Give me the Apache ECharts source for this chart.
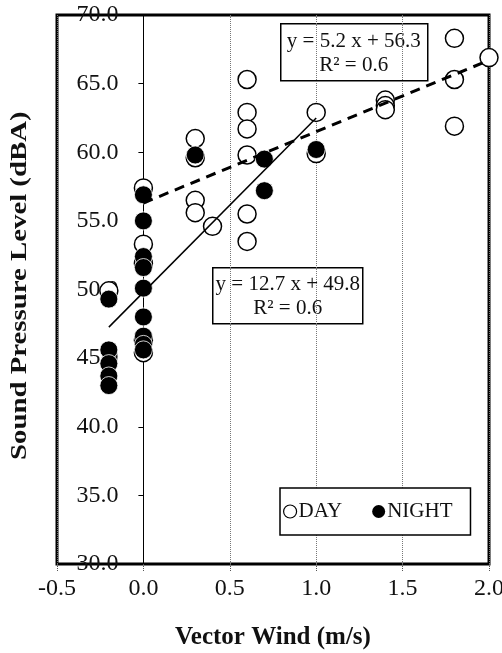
<!DOCTYPE html>
<html>
<head>
<meta charset="utf-8">
<script src="https://cdn.jsdelivr.net/npm/echarts@6/dist/echarts.min.js"></script>
<style>
html,body{margin:0;padding:0;background:#fff;}
#chart{width:502px;height:653px;}
</style>
</head>
<body>
<div id="chart"></div>
<script>
// ---- data ----
var dayX   = [-0.2, 0, 0, 0, 0, 0, 0.3, 0.3, 0.3, 0.3, 0.4, 0.6, 0.6, 0.6, 0.6, 0.6, 0.6, 1.0, 1.0, 1.4, 1.4, 1.4, 1.8, 1.8, 1.8, 2.0];
var dayY   = [49.9, 57.4, 53.3, 51.9, 46.3, 45.4, 61.0, 59.6, 56.5, 55.6, 54.6, 65.3, 62.9, 61.7, 59.8, 55.5, 53.5, 62.9, 59.9, 63.8, 63.4, 63.1, 68.3, 65.3, 61.9, 66.9];
var nightX = [-0.2, -0.2, -0.2, -0.2, -0.2, 0, 0, 0, 0, 0, 0, 0, 0, 0, 0.3, 0.7, 0.7, 1.0];
var nightY = [49.3, 45.6, 44.6, 43.7, 43.0, 56.9, 55.0, 52.4, 51.6, 50.1, 48.0, 46.6, 46.0, 45.6, 59.8, 59.5, 57.2, 60.2];
var dayFit   = {slope: 5.2,  intercept: 56.3, from: 0,    to: 2.0, r2: 0.6};
var nightFit = {slope: 12.7, intercept: 49.8, from: -0.2, to: 1.0, r2: 0.6};
var xTicks = {min: -0.5, max: 2.0, interval: 0.5};
var yTicks = {min: 30, max: 70, interval: 5};
var seriesNames = ['DAY', 'NIGHT'];
var xTitle = 'Vector Wind (m/s)';
var yTitle = 'Sound Pressure Level (dBA)';

function pairs(xs, ys){ return xs.map(function(x,i){ return [x, ys[i]]; }); }
function fitLine(f){ return [[f.from, f.slope*f.from + f.intercept],[f.to, f.slope*f.to + f.intercept]]; }
function eqText(f){ return 'y = ' + f.slope.toFixed(1) + ' x + ' + f.intercept.toFixed(1); }

var FONT = 'Liberation Serif';
var GRID = {left: 57, right: 13, top: 15, bottom: 89};
var gridW = 502 - GRID.left - GRID.right;
// shift the y axis so it sits on x = 0 (Excel-style crossing)
var yAxisOffset = -gridW * (0 - xTicks.min) / (xTicks.max - xTicks.min);

var chart = echarts.init(document.getElementById('chart'), null, {renderer:'canvas'});

chart.setOption({
  backgroundColor: '#fff',
  animation: false,
  grid: {left: GRID.left, right: GRID.right, top: GRID.top, bottom: GRID.bottom, containLabel: false, outerBoundsMode: 'none',
         show: true, borderColor: '#000', borderWidth: 3, backgroundColor: 'transparent'},
  xAxis: {
    type: 'value', min: xTicks.min, max: xTicks.max, interval: xTicks.interval,
    axisLine: {onZero: false, lineStyle: {color: '#000', width: 1}},
    axisTick: {show: true, length: 8, lineStyle: {color: '#555', type: 'dotted'}},
    axisLabel: {margin: 13, color: '#111', fontFamily: FONT, fontSize: 24, formatter: function(v){ return v.toFixed(1); }},
    splitLine: {show: true, lineStyle: {color: '#777', type: 'dotted', width: 1}},
    name: xTitle, nameLocation: 'middle', nameGap: 61,
    nameTextStyle: {fontFamily: FONT, fontWeight: 'bold', fontSize: 25, color: '#111'}
  },
  yAxis: {
    type: 'value', min: yTicks.min, max: yTicks.max, interval: yTicks.interval,
    offset: yAxisOffset,
    axisLine: {onZero: false, lineStyle: {color: '#000', width: 1}},
    axisTick: {show: true, length: 5, lineStyle: {color: '#000'}},
    axisLabel: {margin: 25, color: '#111', fontFamily: FONT, fontSize: 24, formatter: function(v){ return v.toFixed(1); }},
    splitLine: {show: false}
  },
  legend: {
    data: [{name: seriesNames[0], icon: 'circle', itemStyle: {color: '#fff', borderColor: '#000', borderWidth: 1.2, opacity: 1}},
           {name: seriesNames[1], icon: 'circle', itemStyle: {color: '#000', borderWidth: 0, opacity: 1}}],
    left: 280, top: 488, orient: 'horizontal',
    padding: [13, 18, 13, 3], itemGap: 30, itemWidth: 13, itemHeight: 13,
    borderColor: '#000', borderWidth: 1.5, backgroundColor: '#fff',
    textStyle: {fontFamily: FONT, fontSize: 21, color: '#111', padding: [0,0,0,-3]}
  },
  graphic: [
    {type: 'text', x: 8, y: 460, rotation: Math.PI/2, scaleX: 1.2, z: 100,
     style: {text: yTitle, font: 'bold 24px "Liberation Serif"', fill: '#111', textAlign: 'left', textVerticalAlign: 'top'}},
    {type: 'group', left: 280, top: 23, z: 100, children: [
      {type: 'rect', shape: {x: 0, y: 0, width: 147, height: 57}, style: {fill: '#fff', stroke: '#000', lineWidth: 1.5}},
      {type: 'text', x: 73, y: 18, style: {text: eqText(dayFit), font: '21px "Liberation Serif"', fill: '#111', textAlign: 'center', textVerticalAlign: 'middle'}},
      {type: 'text', x: 73, y: 42, style: {text: 'R² = ' + dayFit.r2.toFixed(1), font: '21px "Liberation Serif"', fill: '#111', textAlign: 'center', textVerticalAlign: 'middle'}}
    ]},
    {type: 'group', left: 212, top: 267, z: 100, children: [
      {type: 'rect', shape: {x: 0, y: 0, width: 150, height: 56}, style: {fill: '#fff', stroke: '#000', lineWidth: 1.5}},
      {type: 'text', x: 75, y: 17, style: {text: eqText(nightFit), font: '21px "Liberation Serif"', fill: '#111', textAlign: 'center', textVerticalAlign: 'middle'}},
      {type: 'text', x: 75, y: 41, style: {text: 'R² = ' + nightFit.r2.toFixed(1), font: '21px "Liberation Serif"', fill: '#111', textAlign: 'center', textVerticalAlign: 'middle'}}
    ]}
  ],
  series: [
    {name: seriesNames[0], type: 'scatter', data: pairs(dayX, dayY), symbol: 'circle', symbolSize: 18, z: 3,
     itemStyle: {color: '#fff', borderColor: '#000', borderWidth: 1.5, opacity: 1}},
    {name: seriesNames[1], type: 'scatter', data: pairs(nightX, nightY), symbol: 'circle', symbolSize: 18, z: 4,
     itemStyle: {color: '#000', borderColor: '#fff', borderWidth: 0.8, opacity: 1}},
    {name: 'dayFit', type: 'line', data: fitLine(dayFit), showSymbol: false, symbol: 'none', z: 5, silent: true,
     lineStyle: {color: '#000', width: 3, type: [10, 7]}},
    {name: 'nightFit', type: 'line', data: fitLine(nightFit), showSymbol: false, symbol: 'none', z: 5, silent: true,
     lineStyle: {color: '#000', width: 1.5, type: 'solid'}}
  ]
});
</script>
</body>
</html>
